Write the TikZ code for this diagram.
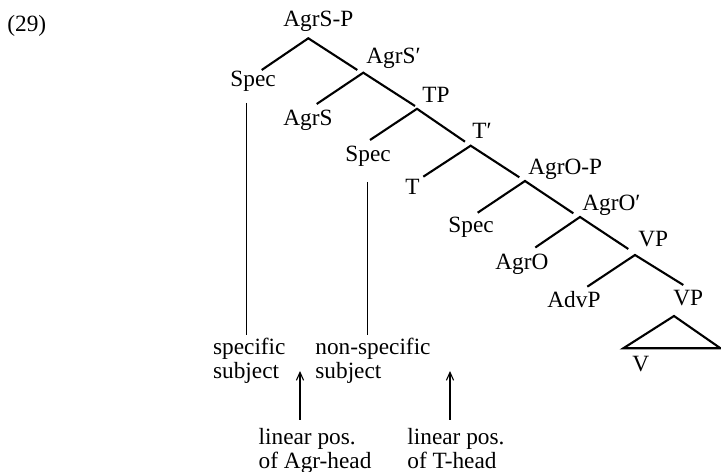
\documentclass[tikz,border=0pt]{standalone}
\usepackage{fontspec}
\setmainfont{Liberation Serif}
\usepackage{tikz}
\usetikzlibrary{arrows.meta}
\tikzset{
  lbl/.style={anchor=base west, inner sep=0pt, align=left},
  branch/.style={line width=1.05bp},
  trace/.style={line width=0.55bp},
  uparrow/.style={-{Straight Barb[length=4bp, width=3.6bp]}, line width=0.55bp},
  every node/.style={font=\fontsize{11.65bp}{11.65bp}\selectfont}
}

\begin{document}
\begin{tikzpicture}[x=0.5bp,y=-0.5bp]
    \useasboundingbox (0,0) rectangle (721,472);
    \node[lbl] (exno) at (7,31.7) {(29)};
    % labels
    \node[lbl] (agrsp)  at (283,27)   {AgrS-P};
    \node[lbl] (spec1)  at (230,87)   {Spec};
    \node[lbl] (agrsb)  at (366,64)   {AgrS′};
    \node[lbl] (agrs)   at (283,126)  {AgrS};
    \node[lbl] (tp)     at (422,103)  {TP};
    \node[lbl] (spec2)  at (345,162)  {Spec};
    \node[lbl] (tb)     at (472,139)  {T′};
    \node[lbl] (t)      at (405,195)  {T};
    \node[lbl] (agrop)  at (528,175)  {AgrO-P};
    \node[lbl] (spec3)  at (448,233)  {Spec};
    \node[lbl] (agrob)  at (582,211)  {AgrO′};
    \node[lbl] (agro)   at (495,270)  {AgrO};
    \node[lbl] (vp1)    at (638,247)  {VP};
    \node[lbl] (advp)   at (547,308)  {AdvP};
    \node[lbl] (vp2)    at (673,306)  {VP};
    \node[lbl] (v)      at (632,372)  {V};
    % two-line notes: base is the last line
    \node[lbl] (spsubj) at (212.7,378.3) {specific\\subject};
    \node[lbl] (nsubj)  at (315,378.3)  {non-specific\\subject};
    \node[lbl] (agrhd)  at (258.3,468.3) {linear pos.\\of Agr-head};
    \node[lbl] (thd)    at (407,468.3)  {linear pos.\\of T-head};
    % branch points
    \coordinate (b1) at (308.3,38.3);
    \coordinate (b2) at (363.3,72.7);
    \coordinate (b3) at (417,108.8);
    \coordinate (b4) at (470.7,145.7);
    \coordinate (b5) at (525,181);
    \coordinate (b6) at (580,217);
    \coordinate (b7) at (635,255);
    % tree
    \draw[branch] (261.7,70) -- (b1) -- (357.3,70);
    \draw[branch] (316.7,104) -- (b2) -- (415,106);
    \draw[branch] (370,140) -- (b3) -- (465,141.7);
    \draw[branch] (423.3,176.7) -- (b4) -- (519.3,177.3);
    \draw[branch] (477.7,212.7) -- (b5) -- (573.3,213.3);
    \draw[branch] (535.3,247.5) -- (b6) -- (628.3,249);
    \draw[branch] (587.3,286.7) -- (b7) -- (683.3,285);
    \draw[branch, line join=miter] (674,316) -- (623.3,348.3) -- (720.5,348.3) -- cycle;
    % traces and arrows
    \coordinate (tr1a) at (246.7,103);  \coordinate (tr1b) at (246.7,335);
    \coordinate (tr2a) at (367.7,182);  \coordinate (tr2b) at (367.7,335);
    \draw[trace] (tr1a) -- (tr1b);
    \draw[trace] (tr2a) -- (tr2b);
    \coordinate (ar1) at (300,420);  \coordinate (ar1t) at (300,371);
    \coordinate (ar2) at (450,420);  \coordinate (ar2t) at (450,371);
    \draw[uparrow] (ar1) -- (ar1t);
    \draw[uparrow] (ar2) -- (ar2t);
\end{tikzpicture}
\end{document}
